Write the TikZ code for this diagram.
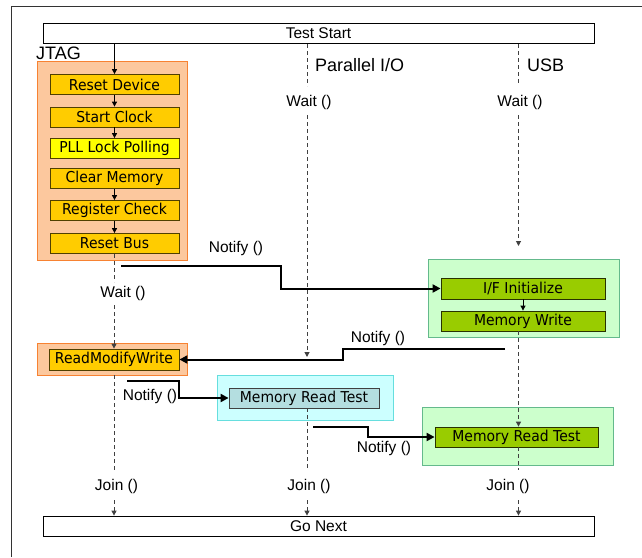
\documentclass[tikz,border=0pt]{standalone}
\usepackage{fontspec}
\setmainfont{Liberation Sans}
\newfontfamily\boxfont[FakeStretch=0.93]{DejaVu Sans}
\usetikzlibrary{arrows.meta}
\definecolor{orgfill}{RGB}{252,200,158}
\definecolor{orgline}{RGB}{247,130,50}
\definecolor{gold}{RGB}{255,204,0}
\definecolor{goldline}{RGB}{80,64,0}
\definecolor{pllyel}{RGB}{255,255,0}
\definecolor{grnfill}{RGB}{204,255,204}
\definecolor{grnline}{RGB}{100,185,140}
\definecolor{grnbox}{RGB}{153,204,0}
\definecolor{grnboxline}{RGB}{40,50,0}
\definecolor{cyfill}{RGB}{204,255,255}
\definecolor{cyline}{RGB}{102,222,222}
\definecolor{cybox}{RGB}{180,222,224}
\definecolor{dashcol}{RGB}{64,64,64}
\tikzset{
  stepbox/.style={draw=goldline, fill=gold, line width=0.8pt, minimum width=129pt, minimum height=20pt, inner sep=0pt, font=\boxfont\fontsize{15}{16}\selectfont},
  grnstep/.style={stepbox, fill=grnbox, draw=grnboxline},
  cystep/.style={stepbox, fill=cybox, draw=black!75},
  jgroup/.style={draw=orgline, fill=orgfill, line width=0.8pt, inner sep=0pt},
  ggroup/.style={draw=grnline, fill=grnfill, line width=0.8pt, inner sep=0pt},
  cgroup/.style={draw=cyline, fill=cyfill, line width=0.8pt, inner sep=0pt},
  bar/.style={draw=black, line width=0.8pt, fill=white, minimum width=551pt, minimum height=20pt, inner sep=0pt, font=\fontsize{15.5}{16}\selectfont},
  lbl/.style={inner sep=0pt, font=\fontsize{15.5}{16}\selectfont},
  lanelbl/.style={inner sep=0pt, anchor=west, font=\fontsize{18}{19}\selectfont},
  sarr/.style={draw=black, line width=0.9pt, -{Triangle[width=5pt,length=5pt]}},
  dsh/.style={draw=dashcol, line width=1pt, dash pattern=on 4pt off 3pt},
  darr/.style={dsh, -{Triangle[width=5pt,length=5pt]}},
  narr/.style={draw=black, line width=2pt, -{Triangle[width=8pt,length=8pt]}},
}
\begin{document}
\begin{tikzpicture}[x=1pt,y=-1pt]
\useasboundingbox (0,0) rectangle (642,557);
% frame
\draw[black!80, line width=1pt] (11,557) -- (11,6) -- (642,6);
% bars
\node[bar] (ts) at (318.5,33) {Test Start};
\node[bar] (go) at (318.5,526) {Go Next};
% lane labels
\node[lanelbl] (ljtag) at (36,53) {JTAG};
\node[lanelbl] (lpio) at (315,65) {Parallel I/O};
\node[lanelbl] (lusb) at (527,65) {USB};
% JTAG group
\node[jgroup, minimum width=150pt, minimum height=199pt] (jg) at (112,160.5) {};
\node[stepbox] (s1) at (114.5,84.5) {Reset Device};
\node[stepbox] (s2) at (114.5,117) {Start Clock};
\node[stepbox, fill=pllyel] (s3) at (114.5,148.5) {PLL Lock Polling};
\node[stepbox] (s4) at (114.5,178.5) {Clear Memory};
\node[stepbox] (s5) at (114.5,210.5) {Register Check};
\node[stepbox] (s6) at (114.5,243.5) {Reset Bus};
\draw[sarr] (ts.south -| s1) -- (s1);
\draw[sarr] (s1) -- (s2);
\draw[sarr] (s2) -- (s3);
\draw[sarr] (s4) -- (s5);
\draw[sarr] (s5) -- (s6);
% RMW group
\node[jgroup, minimum width=150pt, minimum height=32pt] (rg) at (112,359) {};
\node[stepbox, minimum width=130pt, minimum height=21pt] (rmw) at (114,359.5) {ReadModifyWrite};
% USB group 1
\node[ggroup, minimum width=191pt, minimum height=78pt] (ug1) at (523.5,298) {};
\node[grnstep, minimum width=164pt, minimum height=21pt] (if1) at (523,288.5) {I/F Initialize};
\node[grnstep, minimum width=164pt, minimum height=20pt] (mw) at (523,321) {Memory Write};
\draw[sarr] (if1) -- (mw);
% Parallel group
\node[cgroup, minimum width=176pt, minimum height=45pt] (cg) at (305,397.5) {};
\node[cystep, minimum width=150pt, minimum height=20pt] (mrt1) at (304,398) {Memory Read Test};
% USB group 2
\node[ggroup, minimum width=191pt, minimum height=58pt] (ug2) at (517.5,436) {};
\node[grnstep, minimum width=163pt, minimum height=20pt] (mrt2) at (516.5,437) {Memory Read Test};
% wait / join labels
\node[lbl] (pw) at (309,102) {Wait ()};
\node[lbl] (uw) at (520,102) {Wait ()};
\node[lbl] (jw) at (123,293) {Wait ()};
\node[lbl] (jj) at (116.5,486) {Join ()};
\node[lbl] (pj) at (309,486) {Join ()};
\node[lbl] (uj) at (508,486) {Join ()};
% notify labels
\node[lbl] (nl1) at (236,248) {Notify ()};
\node[lbl] (nl2) at (378,338) {Notify ()};
\node[lbl] (nl3) at (150,396) {Notify ()};
\node[lbl] (nl4) at (384,448) {Notify ()};
% lane coordinates
\coordinate (pA) at (307,44);
\coordinate (pB) at (307,86);
\coordinate (pC) at (307,115);
\coordinate (pD) at (307,357);
\coordinate (pE) at (307,408);
\coordinate (pF) at (307,470);
\coordinate (pG) at (307,500);
\coordinate (uA) at (518.5,44);
\coordinate (uB) at (518.5,84);
\coordinate (uC) at (518.5,115);
\coordinate (uD) at (518.5,246);
\coordinate (uE) at (518.5,331);
\coordinate (uF) at (518.5,470);
\coordinate (uG) at (518.5,500);
\coordinate (uH) at (518.5,447);
\coordinate (jA) at (114,254);
\coordinate (jB) at (114,282);
\coordinate (jC) at (114,305);
\coordinate (jD) at (114,375);
\coordinate (jE) at (114,470);
\coordinate (jF) at (114,500);
% dashed lanes
\draw[dsh] (pA) -- (pB);
\draw[darr] (pC) -- (pD);
\draw[dsh] (pE) -- (pF);
\draw[darr] (pG) -- (pG |- go.north);
\draw[dsh] (uA) -- (uB);
\draw[darr] (uC) -- (uD);
\draw[darr] (uE) -- (uE |- mrt2.north);
\draw[dsh] (uH) -- (uF);
\draw[darr] (uG) -- (uG |- go.north);
\draw[dsh] (jA) -- (jB);
\draw[darr] (jC) -- (rmw.north);
\draw[dsh] (jD) -- (jE);
\draw[darr] (jF) -- (jF |- go.north);
% notify connectors
\coordinate (n1a) at (121,266);
\coordinate (n1b) at (281,266);
\draw[narr] (n1a) -- (n1b) |- (if1.west);
\coordinate (n2a) at (505,349);
\coordinate (n2b) at (343,349);
\draw[narr] (n2a) -- (n2b) |- (rmw.east);
\coordinate (n3a) at (127,381);
\coordinate (n3b) at (179,381);
\draw[narr] (n3a) -- (n3b) |- (mrt1.west);
\coordinate (n4a) at (313,427);
\coordinate (n4b) at (368,427);
\draw[narr] (n4a) -- (n4b) |- (mrt2.west);
\end{tikzpicture}
\end{document}
